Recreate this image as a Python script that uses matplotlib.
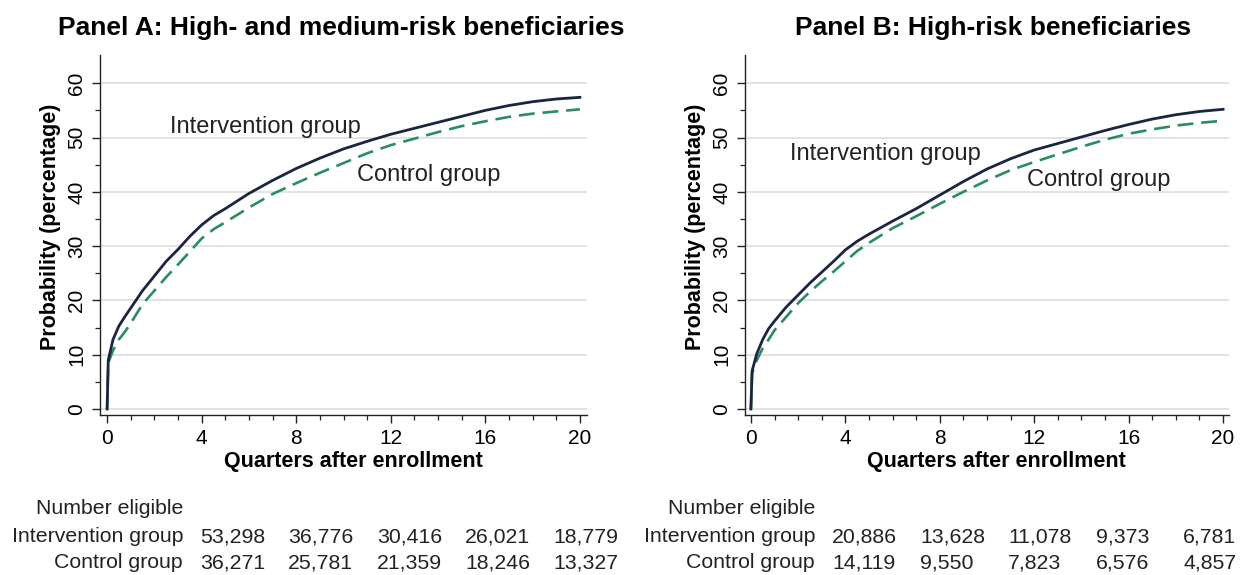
import matplotlib.pyplot as plt
import numpy as np

plt.rcParams['font.family'] = ['Liberation Sans', 'DejaVu Sans']

quarters = [0, 0.05, 0.25, 0.5, 0.75, 1, 1.5, 2, 2.5, 3, 3.5, 4, 4.5, 5,
            6, 7, 8, 9, 10, 11, 12, 13, 14, 15, 16, 17, 18, 19, 20]

# Panel A: high- and medium-risk beneficiaries (probability, %)
a_intervention = [0, 9.0, 12.8, 15.3, 17.0, 18.6, 21.8, 24.5, 27.2, 29.4, 31.8,
                  33.9, 35.6, 36.9, 39.7, 42.1, 44.3, 46.2, 47.9, 49.3, 50.6,
                  51.7, 52.8, 53.9, 55.0, 55.9, 56.6, 57.1, 57.4]
a_control = [0, 8.5, 10.8, 12.8, 14.2, 15.8, 19.3, 21.8, 24.3, 26.6, 29.0,
             31.4, 33.1, 34.4, 37.1, 39.6, 41.6, 43.5, 45.3, 47.1, 48.6,
             49.8, 51.0, 52.1, 53.0, 53.8, 54.4, 54.8, 55.2]

# Panel B: high-risk beneficiaries (probability, %)
b_intervention = [0, 7.0, 10.2, 12.8, 14.8, 16.2, 18.8, 21.0, 23.2, 25.2, 27.2,
                  29.3, 30.9, 32.2, 34.6, 36.9, 39.4, 41.9, 44.2, 46.1, 47.7,
                  48.9, 50.1, 51.3, 52.4, 53.4, 54.2, 54.8, 55.2]
b_control = [0, 6.5, 9.0, 11.2, 12.8, 14.5, 17.0, 19.5, 21.6, 23.5, 25.3,
             27.2, 29.1, 30.6, 33.3, 35.5, 37.8, 40.0, 42.1, 44.0, 45.5,
             46.9, 48.3, 49.6, 50.7, 51.5, 52.2, 52.7, 53.1]

titles = ['Panel A: High- and medium-risk beneficiaries',
          'Panel B: High-risk beneficiaries']
group_labels = ['Intervention group', 'Control group']

# number eligible
a_n_intervention = ['53,298', '36,776', '30,416', '26,021', '18,779']
a_n_control = ['36,271', '25,781', '21,359', '18,246', '13,327']
b_n_intervention = ['20,886', '13,628', '11,078', '9,373', '6,781']
b_n_control = ['14,119', '9,550', '7,823', '6,576', '4,857']

NAVY = '#1b2440'
GREEN = '#2a8c64'
W, H = 1248, 575

fig = plt.figure(figsize=(12.48, 5.75), dpi=100)


def fx(px):
    return px / W


def fy(px):
    return 1 - px / H


panels = [
    dict(left=100, width=487, xlim=(-0.3, 20.3), title_x=341,
         curves=(a_intervention, a_control),
         lab_pos=((2.66, 52.0), (10.57, 43.1)),
         table=(a_n_intervention, a_n_control), rowlab_x=183,
         cols=[200, 288, 377, 465, 553], title=titles[0]),
    dict(left=745, width=484, xlim=(-0.25, 20.25), title_x=993,
         curves=(b_intervention, b_control),
         lab_pos=((1.65, 47.0), (11.69, 42.2)),
         table=(b_n_intervention, b_n_control), rowlab_x=815,
         cols=[832, 920, 1008, 1096, 1183], title=titles[1]),
]

for p in panels:
    ax = fig.add_axes([fx(p['left']), fy(415), fx(p['width']), 360 / H])
    inter, ctrl = p['curves']
    ax.plot(quarters, ctrl, color=GREEN, lw=1.9, dashes=(6, 3), zorder=3)
    ax.plot(quarters, inter, color=NAVY, lw=2.0, zorder=4)

    ax.set_xlim(*p['xlim'])
    ax.set_ylim(-1.1, 65.2)
    ax.set_xticks(np.arange(0, 21, 4))
    ax.set_xticks(np.arange(0, 21, 1), minor=True)
    ax.set_yticks(np.arange(0, 61, 10))
    ax.set_yticks(np.arange(5, 61, 10), minor=True)
    ax.grid(axis='y', which='major', color='#e0e0e0', lw=1.3, zorder=0)
    for s in ['top', 'right']:
        ax.spines[s].set_visible(False)
    for s in ['left', 'bottom']:
        ax.spines[s].set_color('#222222')
        ax.spines[s].set_linewidth(1.0)
    ax.tick_params(which='major', length=6, width=1, color='#222222',
                   labelsize=15, pad=4)
    ax.tick_params(which='minor', length=3.5, width=0.9, color='#222222')
    for lab in ax.get_yticklabels():
        lab.set_rotation(90)
        lab.set_va('center')

    ax.set_xlabel('Quarters after enrollment', fontsize=15.5,
                  fontweight='bold')
    ax.xaxis.set_label_coords(0.52, -0.1)
    ax.set_ylabel('Probability (percentage)', fontsize=15.5,
                  fontweight='bold')
    ax.yaxis.set_label_coords(-0.08, 0.524)

    for (lx, ly), txt in zip(p['lab_pos'], group_labels):
        ax.text(lx, ly, txt, fontsize=17, va='center', ha='left',
                color='#222222')

    fig.text(fx(p['title_x']), fy(28.5), p['title'], fontsize=19,
             fontweight='bold', ha='center', va='center')

    # number-eligible table
    fig.text(fx(p['rowlab_x']), fy(508), 'Number eligible', fontsize=15.3,
             ha='right', va='center', color='#222222')
    for row_y, label, vals in zip([537, 563], group_labels, p['table']):
        fig.text(fx(p['rowlab_x']), fy(row_y), label, fontsize=15.3,
                 ha='right', va='center', color='#222222')
        for cx, v in zip(p['cols'], vals):
            fig.text(fx(cx), fy(row_y), v, fontsize=15.3, ha='left',
                     va='center', color='#222222')

fig.savefig('out.png', dpi=100)
